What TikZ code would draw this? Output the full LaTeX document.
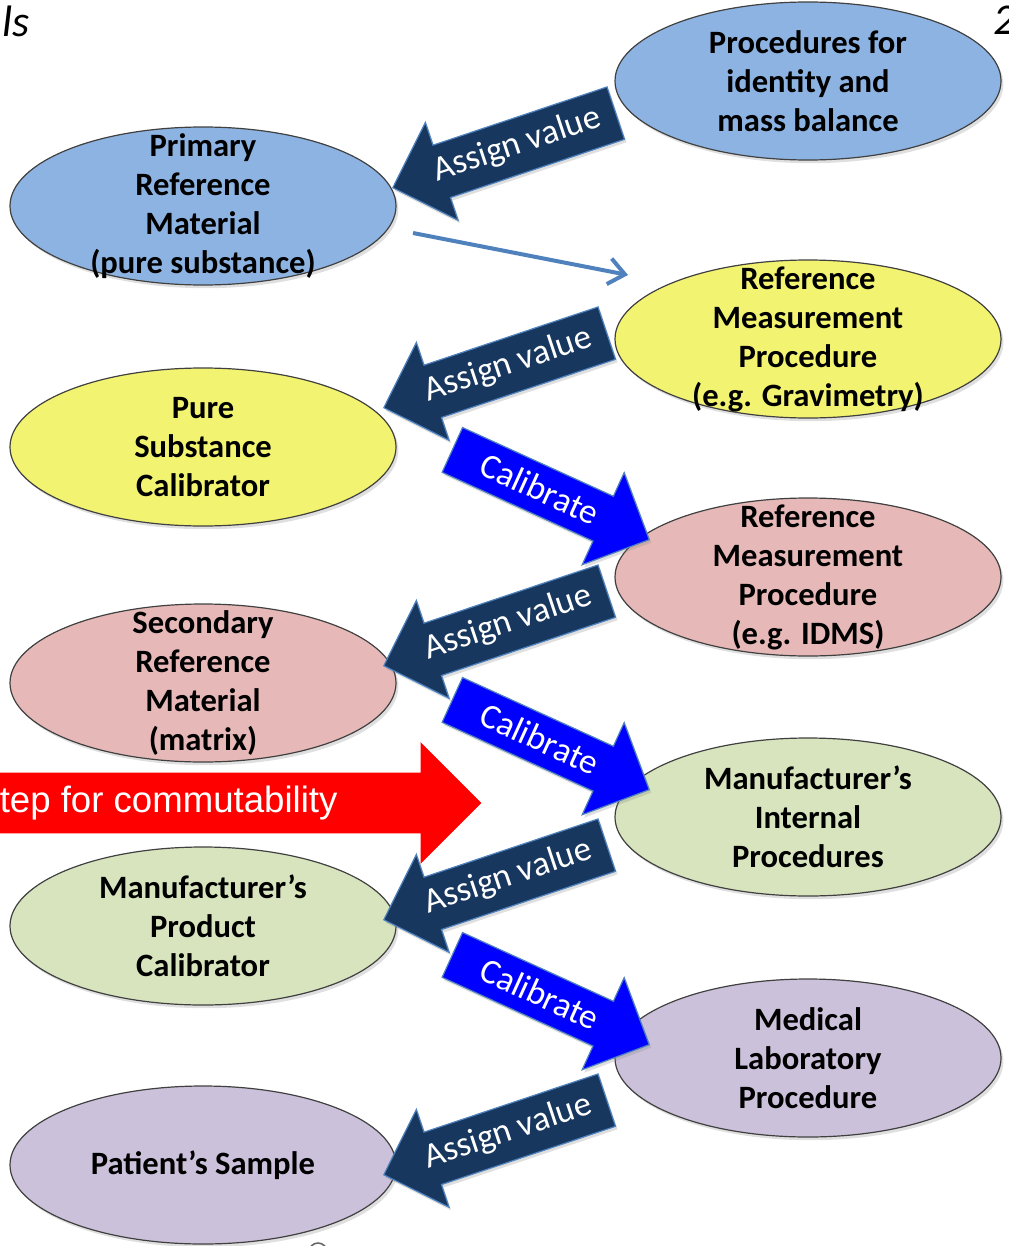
\documentclass[tikz,border=0pt]{standalone}
\usepackage{fontspec}
\setmainfont{Carlito}
\newfontfamily\arialfont{Liberation Sans}
\usetikzlibrary{shapes,arrows,positioning,calc,shadows,arrows.meta}

\definecolor{blueE}{HTML}{8DB3E2}
\definecolor{yellowE}{HTML}{F3F372}
\definecolor{pinkE}{HTML}{E6B9B8}
\definecolor{greenE}{HTML}{D7E4BD}
\definecolor{purpleE}{HTML}{CCC1DA}
\definecolor{navyA}{HTML}{17375E}
\definecolor{calBlue}{HTML}{0000FF}
\definecolor{lineBlue}{HTML}{4F81BD}

\begin{document}
\begin{tikzpicture}[x=0.5pt, y=-0.5pt,
    oval/.style={ellipse, draw=black!75, line width=0.6pt, minimum width=193pt,
        minimum height=79pt, inner sep=0pt,
        drop shadow={shadow xshift=1.2pt, shadow yshift=-1.6pt, opacity=0.25}},
    ovaltext/.style={align=center, inner sep=0pt, font=\fontsize{16.3}{19.5}\selectfont\bfseries},
    assign/.style={single arrow, shape border rotate=180, rotate=18.5, anchor=tip,
        fill=navyA, draw=lineBlue, line width=0.6pt, text=white,
        font=\fontsize{17.5}{19}\selectfont, text height=12pt, text depth=4pt,
        inner xsep=8pt, inner ysep=5.5pt, single arrow head extend=12pt,
        drop shadow={shadow xshift=1pt, shadow yshift=-1.5pt, opacity=0.25}},
    calib/.style={single arrow, rotate=-24.5, anchor=tip,
        fill=calBlue, draw=lineBlue, line width=0.6pt, text=white,
        font=\fontsize{17.5}{19}\selectfont, text height=12pt, text depth=1pt,
        inner xsep=16pt, inner ysep=5.5pt, single arrow head extend=13pt,
        drop shadow={shadow xshift=1pt, shadow yshift=-1.5pt, opacity=0.25}}
]
    \useasboundingbox (0,0) rectangle (1008,1246);
    \clip (0,0) rectangle (1008,1246);

    % Title fragments
    \node [anchor=north west, inner sep=0pt, font=\itshape\fontsize{22}{24}\selectfont] (titlel) at (2,6) {ls};
    \node [anchor=north west, inner sep=0pt, font=\itshape\fontsize{22}{24}\selectfont] (titler) at (993,6) {2};

    % Commutability step
    \node [single arrow, anchor=tip, fill=red, text=white, inner xsep=56.6pt, inner ysep=6.5pt,
        text height=13pt, text depth=4pt, single arrow head extend=15.25pt,
        font=\arialfont\fontsize{18.3}{20}\selectfont] (commut) at (482,803) {tep for commutability};

    % Left column
    \node [oval, fill=blueE, label={[ovaltext]center:{Primary\\Reference\\Material\\(pure substance)}}] (primary) at (203,206) {};
    \node [oval, fill=yellowE, label={[ovaltext]center:{Pure\\Substance\\Calibrator}}] (purecal) at (203,447) {};
    \node [oval, fill=pinkE, label={[ovaltext]center:{Secondary\\Reference\\Material\\(matrix)}}] (secondary) at (203,683) {};
    \node [oval, fill=greenE, label={[ovaltext]center:{Manufacturer’s\\Product\\Calibrator}}] (mfrcal) at (203,926) {};
    \node [oval, fill=purpleE, label={[ovaltext]center:{Patient’s Sample}}] (patient) at (203,1165) {};

    % Right column
    \node [oval, fill=blueE, label={[ovaltext]center:{Procedures for\\identity and\\mass balance}}] (idmass) at (808,81) {};
    \node [oval, fill=yellowE, label={[ovaltext]center:{Reference\\Measurement\\Procedure\\(e.g. Gravimetry)}}] (rmpgrav) at (808,339) {};
    \node [oval, fill=pinkE, label={[ovaltext]center:{Reference\\Measurement\\Procedure\\(e.g. IDMS)}}] (rmpidms) at (808,577) {};
    \node [oval, fill=greenE, label={[ovaltext]center:{Manufacturer’s\\Internal\\Procedures}}] (mfrint) at (808,817) {};
    \node [oval, fill=purpleE, label={[ovaltext]center:{Medical\\Laboratory\\Procedure}}] (medlab) at (808,1058) {};

    % Assign value
    \node [assign] (assign1) at (392,188) {Assign value};
    \node [assign] (assign2) at (383,408) {Assign value};
    \node [assign] (assign3) at (383,666) {Assign value};
    \node [assign] (assign4) at (383,920) {Assign value};
    \node [assign] (assign5) at (383,1175) {Assign value};

    % Calibrate
    \node [calib] (calib1) at (650,540) {Calibrate};
    \node [calib] (calib2) at (650,790) {Calibrate};
    \node [calib] (calib3) at (650,1045) {Calibrate};

    % Thin arrow
    \coordinate (thinstart) at (413,233);
    \coordinate (thinend) at (628,275);
    \draw [lineBlue, line width=2pt, -{Straight Barb[length=8pt, width=13pt]}] (thinstart) -- (thinend);

    % Bottom mark
    \draw [black!60, line width=0.8pt] (318,1252) circle (9);

\end{tikzpicture}
\end{document}
